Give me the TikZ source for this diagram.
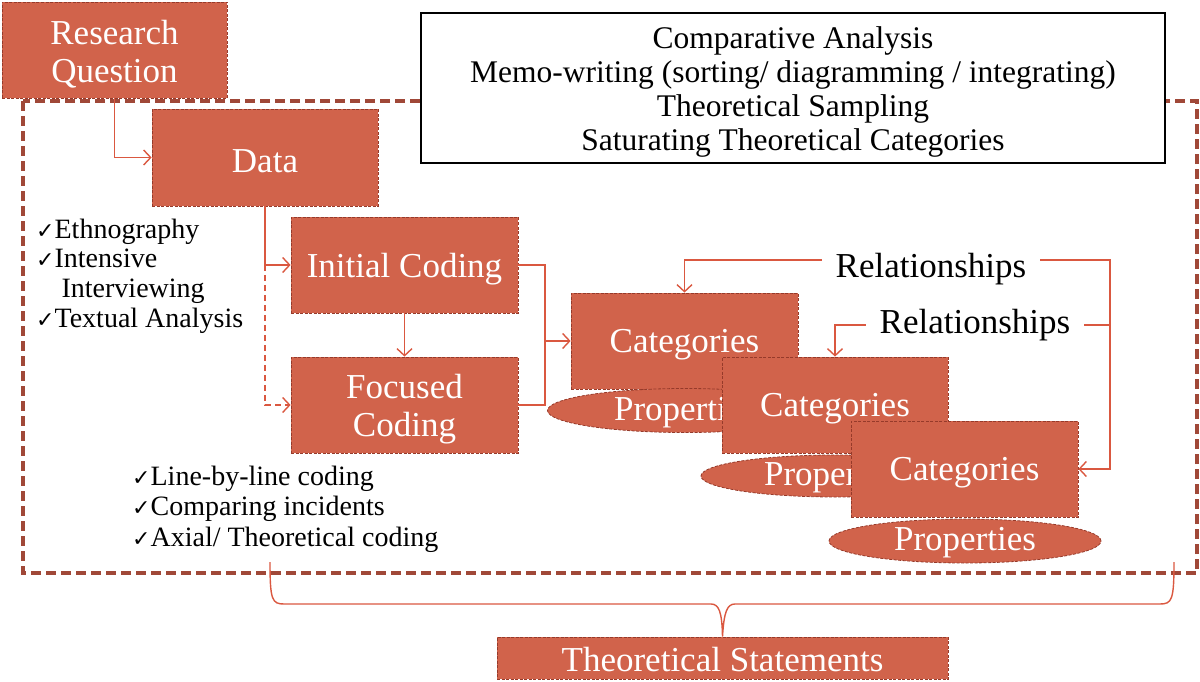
\documentclass[tikz,border=0pt]{standalone}
\usepackage{fontspec}
\setmainfont{Liberation Serif}
\newfontfamily\symfont{DejaVu Sans}
\usetikzlibrary{arrows.meta,shapes.geometric}
\definecolor{boxfill}{RGB}{209,99,75}
\definecolor{boxedge}{RGB}{150,58,42}
\definecolor{frameC}{RGB}{160,72,56}
\definecolor{lineC}{RGB}{218,88,64}
\newcommand{\ck}{{\symfont\fontsize{22}{24}\selectfont ✓}}
\begin{document}
\begin{tikzpicture}[x=1pt,y=-1pt,
  boxnode/.style={draw=boxedge, dash pattern=on 3pt off 1.5pt, line width=0.8pt,
    fill=boxfill, inner sep=0pt},
  boxtext/.style={text=white, align=center, inner sep=0pt, yshift=-4pt,
    font=\fontsize{35}{38}\selectfont},
  ellnode/.style={boxnode, ellipse},
  wire/.style={draw=lineC, line width=1.4pt},
  conn/.style={wire, -{Straight Barb[length=7pt,width=15pt,line width=1.4pt]}},
  rellabel/.style={inner xsep=14pt, inner ysep=0pt, text depth=0pt, text=black, font=\fontsize{35}{38}\selectfont},
  listitem/.style={anchor=base west, inner sep=0pt, text=black, font=\fontsize{28}{30}\selectfont},
]
\useasboundingbox (0,0) rectangle (1200,682);
% frame
\draw[frameC, line width=3.5pt, dash pattern=on 10pt off 5pt] (23,101) rectangle (1197,573);
% top text box
\node[draw=black, line width=1.2pt, fill=white, minimum width=744pt, minimum height=150pt,
  inner sep=0pt,
  label={[text=black, align=center, inner sep=0pt, yshift=-4pt, font=\fontsize{31.5}{34.3}\selectfont]center:Comparative Analysis\\Memo-writing (sorting/ diagramming / integrating)\\Theoretical Sampling\\Saturating Theoretical Categories}]
  (top) at (793,88) {};
% boxes
\node[boxnode, minimum width=225pt, minimum height=96pt, label={[boxtext]center:Research\\Question}] (rq) at (114.5,50) {};
\node[boxnode, minimum width=226pt, minimum height=97pt, label={[boxtext]center:Data}] (data) at (265,157.5) {};
\node[boxnode, minimum width=227pt, minimum height=96pt, label={[boxtext]center:Initial Coding}] (init) at (404.5,265) {};
\node[boxnode, minimum width=227pt, minimum height=96pt, label={[boxtext]center:Focused\\Coding}] (foc) at (404.5,405) {};
\node[boxnode, minimum width=227pt, minimum height=96pt, label={[boxtext]center:Categories}] (cat1) at (684.5,341) {};
\node[ellnode, minimum width=275pt, minimum height=44pt, label={[boxtext,yshift=2pt]center:Properties}] (prop1) at (685,410.5) {};
\node[boxnode, minimum width=226pt, minimum height=96pt, label={[boxtext]center:Categories}] (cat2) at (835,405) {};
\node[ellnode, minimum width=268pt, minimum height=42pt, label={[boxtext,yshift=2pt]center:Properties}] (prop2) at (835,476) {};
\node[boxnode, minimum width=227pt, minimum height=96pt, label={[boxtext]center:Categories}] (cat3) at (964.5,469) {};
\node[ellnode, minimum width=272pt, minimum height=44pt, label={[boxtext,yshift=2pt]center:Properties}] (prop3) at (965,541) {};
\node[boxnode, minimum width=451pt, minimum height=42pt, label={[boxtext,yshift=2pt]center:Theoretical Statements}] (ts) at (722.5,658) {};
% relationships
\node[rellabel, text height=34pt] (rel1) at (931,260) {Relationships};
\node[rellabel, text height=16pt] (rel2) at (975,325) {Relationships};
% connectors
\draw[conn] (rq.south) |- (data.west);
\draw[conn] (data.south) |- (init.west);
\coordinate (j1) at (data.south |- init.west);
\draw[conn, dash pattern=on 6pt off 4pt] (j1) |- (foc.west);
\draw[conn] (init.south) -- (foc.north);
\coordinate (bm) at (545,341);
\draw[wire] (init.east) -| (bm) |- (foc.east);
\draw[conn] (bm) -- (cat1.west);
\draw[conn] (rel1.west) -| (cat1.north);
\draw[conn] (rel2.west) -| (cat2.north);
\coordinate (rc) at (1110,469);
\draw[conn] (rel1.east) -| (rc) -- (cat3.east);
\draw[wire] (rel2.east) -- (rel2.east -| rc);
% lists
\node[listitem] (l1) at (36,238) {\ck Ethnography};
\node[listitem] (l2) at (36,267) {\ck Intensive};
\node[listitem] (l3) at (36,297) {\phantom{\ck} Interviewing};
\node[listitem] (l4) at (36,327) {\ck Textual Analysis};
\node[listitem] (b1) at (132,485) {\ck Line-by-line coding};
\node[listitem] (b2) at (132,515) {\ck Comparing incidents};
\node[listitem] (b3) at (132,546) {\ck Axial/ Theoretical coding};
% brace
\coordinate (bl) at (270,562);
\coordinate (br) at (1174,562);
\draw[draw=lineC, line width=1.4pt] (bl) .. controls (270,600) and (272,604) .. (284,604)
  -- (711,604) .. controls (719,604) and (722,612) .. (ts.north)
  .. controls (724,612) and (727,604) .. (735,604)
  -- (1160,604) .. controls (1172,604) and (1174,600) .. (br);
\end{tikzpicture}
\end{document}
